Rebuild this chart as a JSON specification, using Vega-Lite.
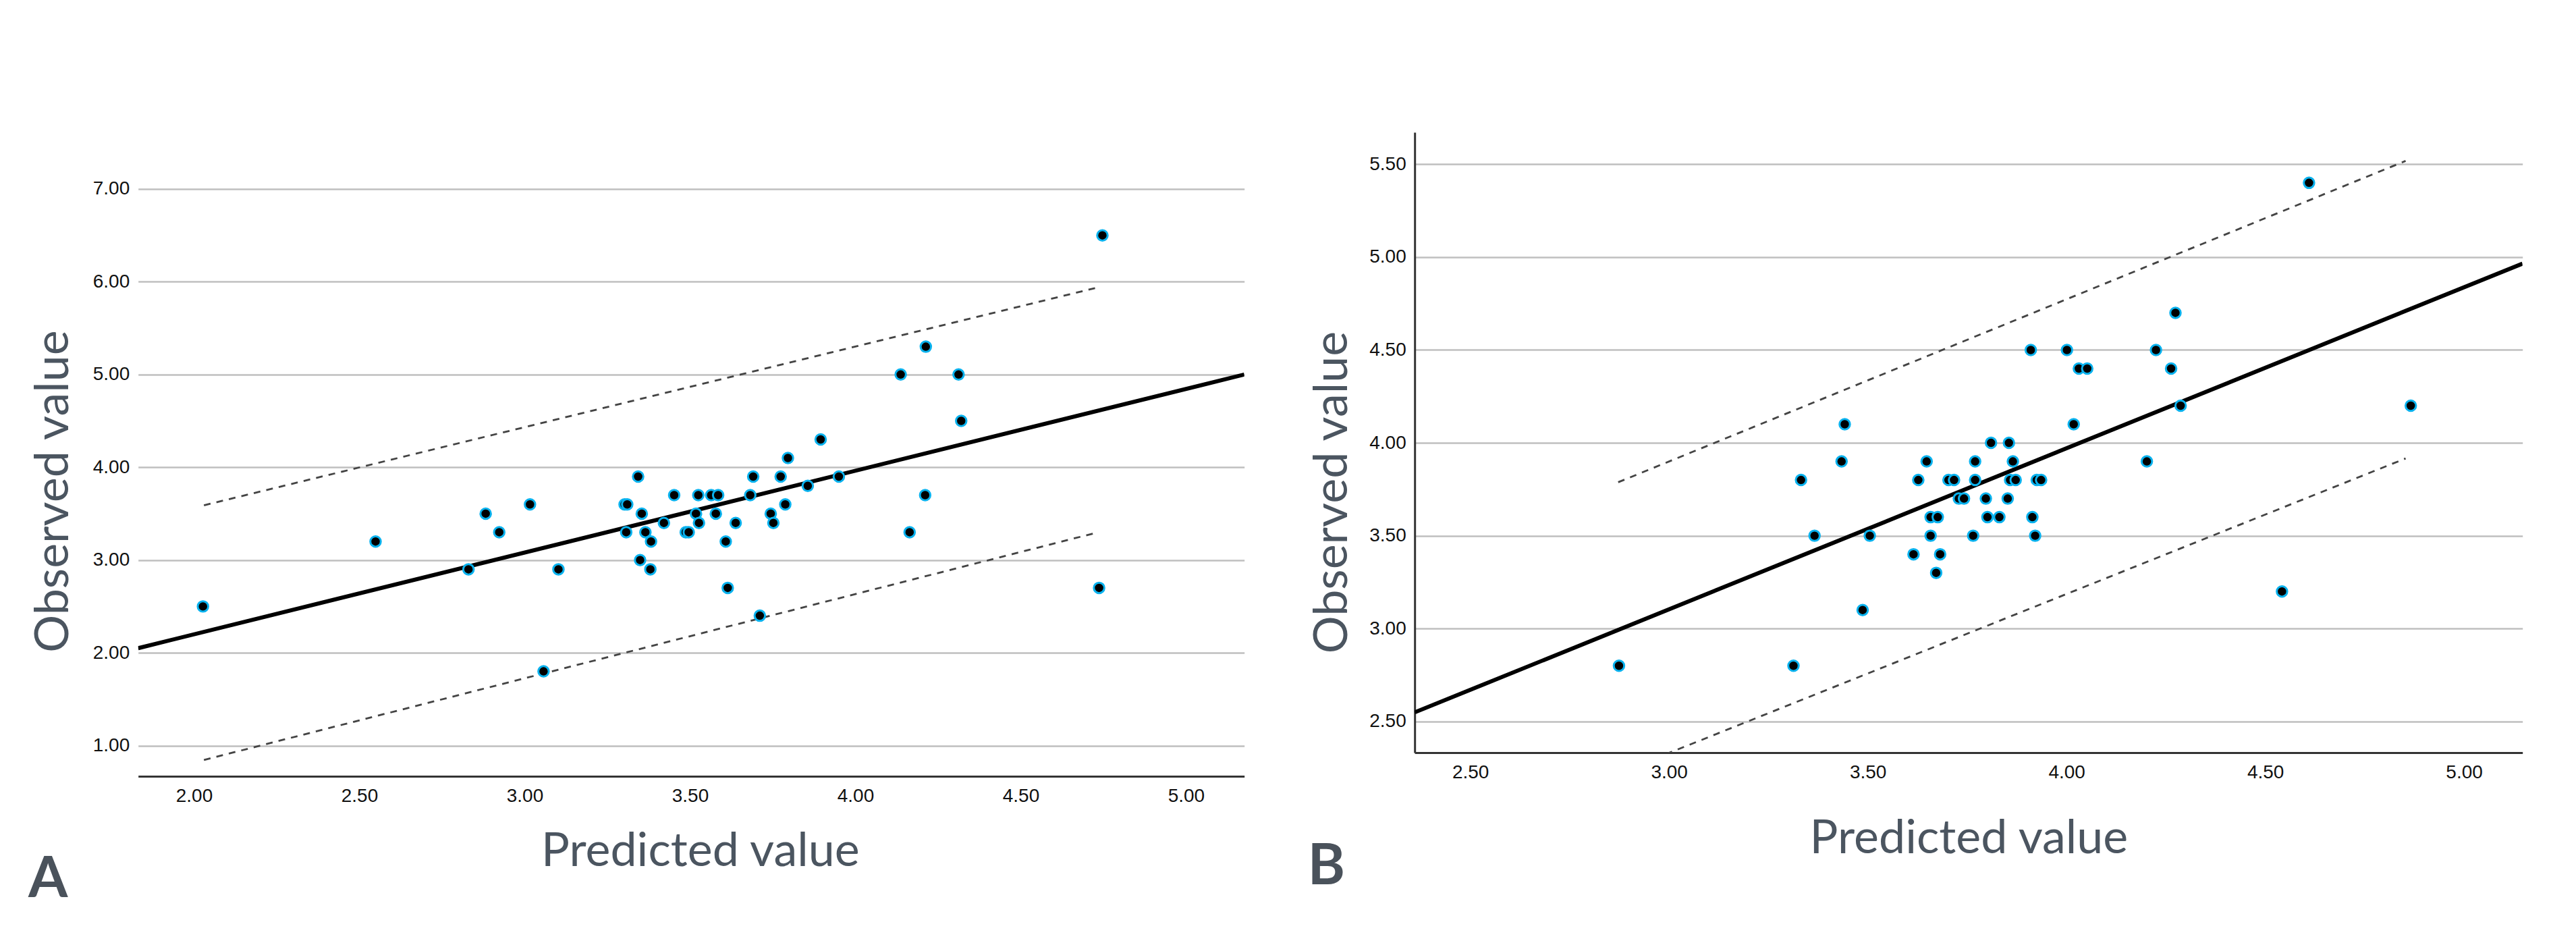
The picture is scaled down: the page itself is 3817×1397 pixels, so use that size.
{
  "$schema": "https://vega.github.io/schema/vega-lite/v6.json",
  "background": "white",
  "padding": {"left": 41.7, "top": 196, "right": 20, "bottom": 20},
  "bounds": "flush",
  "spacing": 252.5,
  "config": {
    "view": {"stroke": null},
    "axis": {
      "labelFont": "Liberation Sans",
      "labelFontSize": 28,
      "labelColor": "#111111",
      "labelFlush": false,
      "labelBound": false,
      "ticks": false,
      "titleFont": "Lato",
      "titleFontSize": 70,
      "titleFontWeight": "normal",
      "titleColor": "#4b5560",
      "domainColor": "#333333",
      "domainWidth": 3,
      "gridColor": "#bfbfbf",
      "gridWidth": 2.5
    }
  },
  "datasets": {
    "a_points": [
      {"x": 2.027, "y": 2.5}, {"x": 2.549, "y": 3.2}, {"x": 2.83, "y": 2.9}, {"x": 2.882, "y": 3.5},
      {"x": 2.923, "y": 3.3}, {"x": 3.016, "y": 3.6}, {"x": 3.057, "y": 1.8}, {"x": 3.102, "y": 2.9},
      {"x": 3.302, "y": 3.6}, {"x": 3.31, "y": 3.6}, {"x": 3.343, "y": 3.9}, {"x": 3.354, "y": 3.5},
      {"x": 3.307, "y": 3.3}, {"x": 3.365, "y": 3.3}, {"x": 3.382, "y": 3.2}, {"x": 3.349, "y": 3.0},
      {"x": 3.38, "y": 2.9}, {"x": 3.421, "y": 3.4}, {"x": 3.452, "y": 3.7}, {"x": 3.525, "y": 3.7},
      {"x": 3.564, "y": 3.7}, {"x": 3.585, "y": 3.7}, {"x": 3.487, "y": 3.3}, {"x": 3.496, "y": 3.3},
      {"x": 3.518, "y": 3.5}, {"x": 3.527, "y": 3.4}, {"x": 3.578, "y": 3.5}, {"x": 3.608, "y": 3.2},
      {"x": 3.638, "y": 3.4}, {"x": 3.614, "y": 2.7}, {"x": 3.691, "y": 3.9}, {"x": 3.682, "y": 3.7},
      {"x": 3.774, "y": 3.9}, {"x": 3.744, "y": 3.5}, {"x": 3.752, "y": 3.4}, {"x": 3.788, "y": 3.6},
      {"x": 3.796, "y": 4.1}, {"x": 3.856, "y": 3.8}, {"x": 3.895, "y": 4.3}, {"x": 3.95, "y": 3.9},
      {"x": 3.711, "y": 2.4}, {"x": 4.137, "y": 5.0}, {"x": 4.312, "y": 5.0}, {"x": 4.32, "y": 4.5},
      {"x": 4.211, "y": 3.7}, {"x": 4.164, "y": 3.3}, {"x": 4.737, "y": 2.7}, {"x": 4.213, "y": 5.3},
      {"x": 4.747, "y": 6.5}
    ],
    "a_lines": [
      {"line": "fit", "x": 1.831, "y": 2.05}, {"line": "fit", "x": 5.176, "y": 5.0},
      {"line": "upper", "x": 2.03, "y": 3.59}, {"line": "upper", "x": 4.735, "y": 5.94},
      {"line": "lower", "x": 2.03, "y": 0.845}, {"line": "lower", "x": 4.735, "y": 3.3}
    ],
    "b_points": [
      {"x": 2.874, "y": 2.8}, {"x": 3.313, "y": 2.8}, {"x": 3.332, "y": 3.8}, {"x": 3.366, "y": 3.5},
      {"x": 3.434, "y": 3.9}, {"x": 3.442, "y": 4.1}, {"x": 3.487, "y": 3.1}, {"x": 3.505, "y": 3.5},
      {"x": 3.615, "y": 3.4}, {"x": 3.627, "y": 3.8}, {"x": 3.648, "y": 3.9}, {"x": 3.658, "y": 3.6},
      {"x": 3.676, "y": 3.6}, {"x": 3.658, "y": 3.5}, {"x": 3.682, "y": 3.4}, {"x": 3.672, "y": 3.3},
      {"x": 3.703, "y": 3.8}, {"x": 3.717, "y": 3.8}, {"x": 3.729, "y": 3.7}, {"x": 3.742, "y": 3.7},
      {"x": 3.765, "y": 3.5}, {"x": 3.77, "y": 3.9}, {"x": 3.77, "y": 3.8}, {"x": 3.797, "y": 3.7},
      {"x": 3.801, "y": 3.6}, {"x": 3.81, "y": 4.0}, {"x": 3.831, "y": 3.6}, {"x": 3.852, "y": 3.7},
      {"x": 3.855, "y": 4.0}, {"x": 3.858, "y": 3.8}, {"x": 3.872, "y": 3.8}, {"x": 3.865, "y": 3.9},
      {"x": 3.91, "y": 4.5}, {"x": 3.914, "y": 3.6}, {"x": 3.921, "y": 3.5}, {"x": 3.925, "y": 3.8},
      {"x": 3.936, "y": 3.8}, {"x": 4.001, "y": 4.5}, {"x": 4.018, "y": 4.1}, {"x": 4.031, "y": 4.4},
      {"x": 4.052, "y": 4.4}, {"x": 4.202, "y": 3.9}, {"x": 4.225, "y": 4.5}, {"x": 4.263, "y": 4.4},
      {"x": 4.274, "y": 4.7}, {"x": 4.287, "y": 4.2}, {"x": 4.542, "y": 3.2}, {"x": 4.866, "y": 4.2},
      {"x": 4.61, "y": 5.4}
    ],
    "b_lines": [
      {"line": "fit", "x": 2.36, "y": 2.549}, {"line": "fit", "x": 5.147, "y": 4.965},
      {"line": "upper", "x": 2.872, "y": 3.788}, {"line": "upper", "x": 4.853, "y": 5.518},
      {"line": "lower", "x": 2.872, "y": 2.221}, {"line": "lower", "x": 4.853, "y": 3.916}
    ]
  },
  "hconcat": [
    {
      "width": 1639,
      "height": 954,
      "title": {"text": "A", "orient": "bottom", "anchor": "start", "frame": "group", "dx": -162.6, "offset": 32, "baseline": "alphabetic", "font": "Lato", "fontSize": 84, "fontWeight": "bold", "color": "#4a525b"},
      "encoding": {
        "x": {"field": "x", "type": "quantitative",
          "scale": {"domain": [1.831, 5.176], "nice": false, "zero": false},
          "axis": {"values": [2, 2.5, 3, 3.5, 4, 4.5, 5], "format": ".2f", "grid": false, "labelPadding": 16,
            "title": "Predicted value", "titleX": 832.7, "titleY": 132.6, "titleBaseline": "alphabetic", "titleAlign": "center"}},
        "y": {"field": "y", "type": "quantitative",
          "scale": {"domain": [0.669, 7.611], "nice": false, "zero": false},
          "axis": {"values": [1, 2, 3, 4, 5, 6, 7], "format": ".2f", "grid": true, "domain": false, "labelPadding": 13,
            "title": "Observed value", "titleX": -104.6, "titleY": 531.5, "titleAngle": 270, "titleBaseline": "alphabetic", "titleAlign": "center"}}
      },
      "layer": [
        {"data": {"name": "a_lines"}, "transform": [{"filter": "datum.line == 'fit'"}],
          "mark": {"type": "line", "color": "black", "strokeWidth": 6, "clip": true}},
        {"data": {"name": "a_lines"}, "transform": [{"filter": "datum.line != 'fit'"}],
          "mark": {"type": "line", "color": "#444444", "strokeWidth": 2.8, "strokeDash": [10, 9], "clip": true},
          "encoding": {"detail": {"field": "line"}}},
        {"data": {"name": "a_points"},
          "mark": {"type": "circle", "size": 240, "opacity": 1, "fill": "black", "stroke": "#0ab2ee", "strokeWidth": 3}},
        {"data": {"values": [{"edge": "left"}]},
          "mark": {"type": "rule", "color": "#333333", "strokeWidth": 3},
          "encoding": {"x": {"datum": 1.831}, "y": {"datum": 0.669}, "y2": {"datum": 7.342}}}
      ]
    },
    {
      "width": 1641.5,
      "height": 919,
      "title": {"text": "B", "orient": "bottom", "anchor": "start", "frame": "group", "dx": -158.5, "offset": 32, "baseline": "alphabetic", "font": "Lato", "fontSize": 84, "fontWeight": "bold", "color": "#4a525b"},
      "encoding": {
        "x": {"field": "x", "type": "quantitative",
          "scale": {"domain": [2.36, 5.147], "nice": false, "zero": false},
          "axis": {"values": [2.5, 3, 3.5, 4, 4.5, 5], "format": ".2f", "grid": false, "labelPadding": 16,
            "title": "Predicted value", "titleY": 149, "titleBaseline": "alphabetic", "titleAlign": "center"}},
        "y": {"field": "y", "type": "quantitative",
          "scale": {"domain": [2.332, 5.672], "nice": false, "zero": false},
          "axis": {"values": [2.5, 3, 3.5, 4, 4.5, 5, 5.5], "format": ".2f", "grid": true, "domain": true, "labelPadding": 13,
            "title": "Observed value", "titleX": -100.4, "titleY": 533, "titleAngle": 270, "titleBaseline": "alphabetic", "titleAlign": "center"}}
      },
      "layer": [
        {"data": {"name": "b_lines"}, "transform": [{"filter": "datum.line == 'fit'"}],
          "mark": {"type": "line", "color": "black", "strokeWidth": 6, "clip": true}},
        {"data": {"name": "b_lines"}, "transform": [{"filter": "datum.line != 'fit'"}],
          "mark": {"type": "line", "color": "#444444", "strokeWidth": 2.8, "strokeDash": [10, 9], "clip": true},
          "encoding": {"detail": {"field": "line"}}},
        {"data": {"name": "b_points"},
          "mark": {"type": "circle", "size": 240, "opacity": 1, "fill": "black", "stroke": "#0ab2ee", "strokeWidth": 3}}
      ]
    }
  ]
}
